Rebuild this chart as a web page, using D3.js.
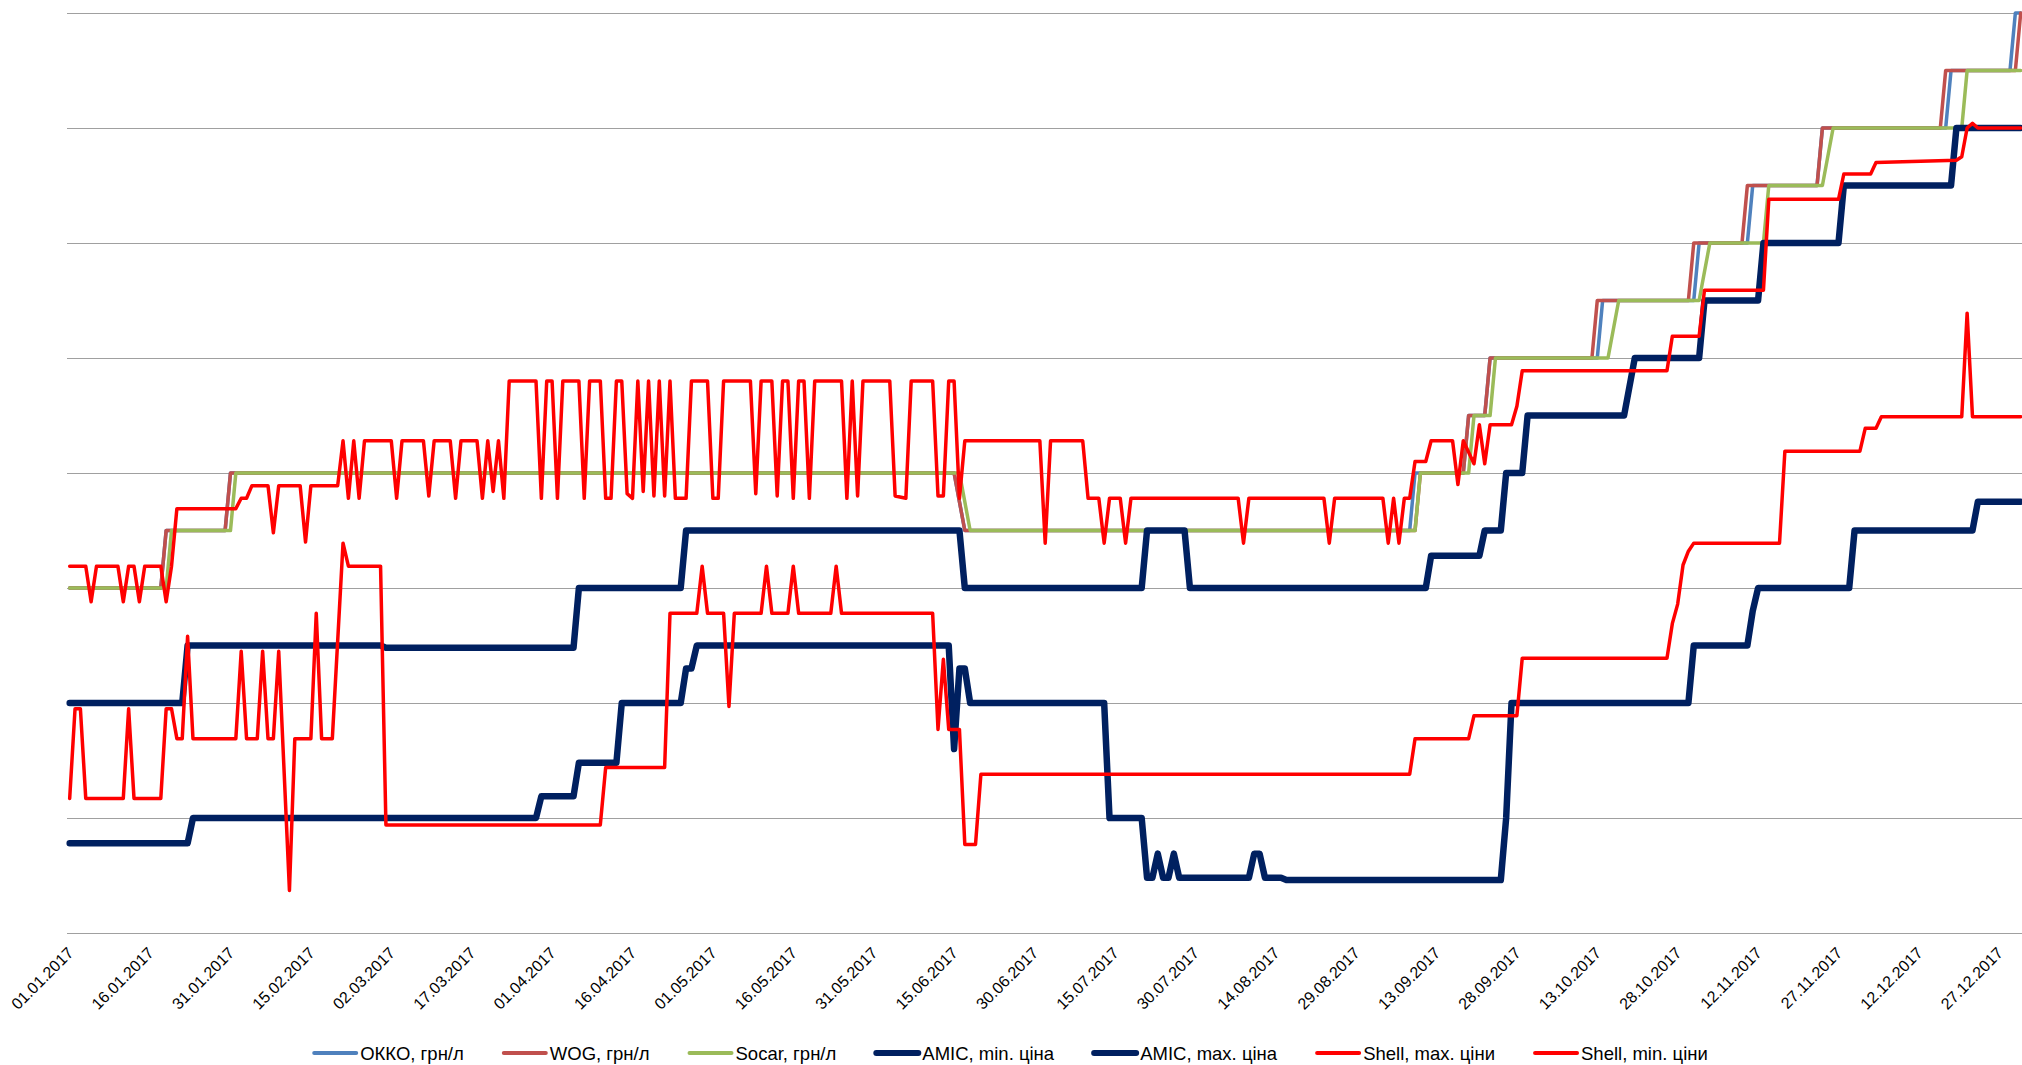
<!DOCTYPE html>
<html>
<head>
<meta charset="utf-8">
<script src="https://cdn.jsdelivr.net/npm/d3@7"></script>
<style>
  html, body { margin: 0; padding: 0; background: #fff; }
  svg { display: block; font-family: "Liberation Sans", Arial, sans-serif; }
</style>
</head>
<body>
<div id="chart"></div>
<script>
// x axis labels (every 15 days)
const dateLabels = ["01.01.2017", "16.01.2017", "31.01.2017", "15.02.2017", "02.03.2017", "17.03.2017",
  "01.04.2017", "16.04.2017", "01.05.2017", "16.05.2017", "31.05.2017", "15.06.2017", "30.06.2017",
  "15.07.2017", "30.07.2017", "14.08.2017", "29.08.2017", "13.09.2017", "28.09.2017", "13.10.2017",
  "28.10.2017", "12.11.2017", "27.11.2017", "12.12.2017", "27.12.2017"];

// horizontal gridlines, грн/л
const gridValues = [22, 23, 24, 25, 26, 27, 28, 29, 30];

// [day of 2017 (0 = 01.01), price]
const okko = [[0, 25], [17, 25], [18, 25.5], [29, 25.5], [30, 26], [165, 26], [167, 25.5], [250, 25.5], [251, 26],
  [260, 26], [261, 26.5], [264, 26.5], [265, 27], [285, 27], [286, 27.5], [303, 27.5], [304, 28], [313, 28],
  [314, 28.5], [326, 28.5], [327, 29], [350, 29], [351, 29.5], [362, 29.5], [363, 30], [364, 30]];

const wog = [[0, 25], [17, 25], [18, 25.5], [29, 25.5], [30, 26], [165, 26], [167, 25.5], [251, 25.5], [252, 26],
  [260, 26], [261, 26.5], [264, 26.5], [265, 27], [284, 27], [285, 27.5], [302, 27.5], [303, 28], [312, 28],
  [313, 28.5], [326, 28.5], [327, 29], [349, 29], [350, 29.5], [363, 29.5], [364, 30]];

const socar = [[0, 25], [18, 25], [19, 25.5], [30, 25.5], [31, 26], [166, 26], [168, 25.5], [251, 25.5], [252, 26],
  [261, 26], [262, 26.5], [265, 26.5], [266, 27], [287, 27], [289, 27.5], [304, 27.5], [306, 28], [316, 28],
  [317, 28.5], [327, 28.5], [329, 29], [353, 29], [354, 29.5], [364, 29.5]];

const amicMin = [[0, 22.78], [22, 22.78], [23, 23], [87, 23], [88, 23.19], [94, 23.19], [95, 23.48], [102, 23.48],
  [103, 24], [114, 24], [115, 24.3], [116, 24.3], [117, 24.5], [164, 24.5], [165, 23.6], [166, 24.3], [167, 24.3],
  [168, 24], [193, 24], [194, 23], [200, 23], [201, 22.48], [202, 22.48], [203, 22.69], [204, 22.48], [205, 22.48],
  [206, 22.69], [207, 22.48], [220, 22.48], [221, 22.69], [222, 22.69], [223, 22.48], [226, 22.48], [227, 22.46],
  [267, 22.46], [268, 23], [269, 24], [302, 24], [303, 24.5], [313, 24.5], [314, 24.8], [315, 25], [332, 25],
  [333, 25.5], [355, 25.5], [356, 25.75], [364, 25.75]];

const amicMax = [[0, 24], [21, 24], [22, 24.5], [58, 24.5], [59, 24.48], [94, 24.48], [95, 25], [114, 25],
  [115, 25.5], [166, 25.5], [167, 25], [200, 25], [201, 25.5], [208, 25.5], [209, 25], [253, 25], [254, 25.28],
  [263, 25.28], [264, 25.5], [267, 25.5], [268, 26], [271, 26], [272, 26.5], [290, 26.5], [292, 27], [304, 27],
  [305, 27.5], [315, 27.5], [316, 28], [330, 28], [331, 28.5], [351, 28.5], [352, 29], [364, 29]];

const shellMax = [[0, 25.19], [3, 25.19], [4, 24.88], [5, 25.19], [9, 25.19], [10, 24.88], [11, 25.19], [12, 25.19],
  [13, 24.88], [14, 25.19], [17, 25.19], [18, 24.88], [19, 25.19], [20, 25.69], [31, 25.69], [32, 25.78], [33, 25.78],
  [34, 25.89], [37, 25.89], [38, 25.48], [39, 25.89], [43, 25.89], [44, 25.4], [45, 25.89], [50, 25.89], [51, 26.28],
  [52, 25.78], [53, 26.28], [54, 25.78], [55, 26.28], [60, 26.28], [61, 25.78], [62, 26.28], [66, 26.28], [67, 25.8],
  [68, 26.28], [71, 26.28], [72, 25.78], [73, 26.28], [76, 26.28], [77, 25.78], [78, 26.28], [79, 25.84], [80, 26.28],
  [81, 25.78], [82, 26.8], [87, 26.8], [88, 25.78], [89, 26.8], [90, 26.8], [91, 25.78], [92, 26.8], [95, 26.8],
  [96, 25.78], [97, 26.8], [99, 26.8], [100, 25.78], [101, 25.78], [102, 26.8], [103, 26.8], [104, 25.82], [105, 25.78],
  [106, 26.8], [107, 25.84], [108, 26.8], [109, 25.8], [110, 26.8], [111, 25.8], [112, 26.8], [113, 25.78], [115, 25.78],
  [116, 26.8], [119, 26.8], [120, 25.78], [121, 25.78], [122, 26.8], [127, 26.8], [128, 25.82], [129, 26.8], [131, 26.8],
  [132, 25.8], [133, 26.8], [134, 26.8], [135, 25.78], [136, 26.8], [137, 26.8], [138, 25.78], [139, 26.8], [144, 26.8],
  [145, 25.78], [146, 26.8], [147, 25.8], [148, 26.8], [153, 26.8], [154, 25.8], [156, 25.78], [157, 26.8], [161, 26.8],
  [162, 25.8], [163, 25.8], [164, 26.8], [165, 26.8], [166, 25.78], [167, 26.28], [181, 26.28], [182, 25.39],
  [183, 26.28], [189, 26.28], [190, 25.78], [192, 25.78], [193, 25.39], [194, 25.78], [196, 25.78], [197, 25.39],
  [198, 25.78], [218, 25.78], [219, 25.39], [220, 25.78], [234, 25.78], [235, 25.39], [236, 25.78], [245, 25.78],
  [246, 25.39], [247, 25.78], [248, 25.39], [249, 25.78], [250, 25.78], [251, 26.1], [253, 26.1], [254, 26.28],
  [258, 26.28], [259, 25.9], [260, 26.28], [262, 26.08], [263, 26.42], [264, 26.08], [265, 26.42], [269, 26.42],
  [270, 26.58], [271, 26.89], [298, 26.89], [299, 27.19], [304, 27.19], [305, 27.59], [316, 27.59], [317, 28.38],
  [330, 28.38], [331, 28.6], [336, 28.6], [337, 28.7], [352, 28.72], [353, 28.75], [354, 29], [355, 29.04], [356, 29],
  [364, 29]];

const shellMin = [[0, 23.17], [1, 23.95], [2, 23.95], [3, 23.17], [10, 23.17], [11, 23.95], [12, 23.17], [17, 23.17],
  [18, 23.95], [19, 23.95], [20, 23.69], [21, 23.69], [22, 24.58], [23, 23.69], [31, 23.69], [32, 24.45], [33, 23.69],
  [35, 23.69], [36, 24.45], [37, 23.69], [38, 23.69], [39, 24.45], [41, 22.37], [42, 23.69], [45, 23.69], [46, 24.78],
  [47, 23.69], [49, 23.69], [51, 25.39], [52, 25.19], [58, 25.19], [59, 22.94], [99, 22.94], [100, 23.44], [111, 23.44],
  [112, 24.78], [117, 24.78], [118, 25.19], [119, 24.78], [122, 24.78], [123, 23.97], [124, 24.78], [129, 24.78],
  [130, 25.19], [131, 24.78], [134, 24.78], [135, 25.19], [136, 24.78], [142, 24.78], [143, 25.19], [144, 24.78],
  [161, 24.78], [162, 23.77], [163, 24.38], [164, 23.77], [166, 23.77], [167, 22.77], [169, 22.77], [170, 23.38],
  [250, 23.38], [251, 23.69], [261, 23.69], [262, 23.89], [270, 23.89], [271, 24.39], [298, 24.39], [299, 24.69],
  [300, 24.86], [301, 25.2], [302, 25.32], [303, 25.39], [319, 25.39], [320, 26.19], [334, 26.19], [335, 26.39],
  [337, 26.39], [338, 26.49], [353, 26.49], [354, 27.39], [355, 26.49], [364, 26.49]];

const series = [
  { name: "ОККО, грн/л", color: "#4F81BD", width: 3.5, data: okko },
  { name: "WOG, грн/л", color: "#C0504D", width: 3.5, data: wog },
  { name: "Socar, грн/л", color: "#9BBB59", width: 3.5, data: socar },
  { name: "АМІС, min. ціна", color: "#002060", width: 6.5, data: amicMin },
  { name: "АМІС, max. ціна", color: "#002060", width: 6.5, data: amicMax },
  { name: "Shell, max. ціни", color: "#FF0000", width: 3.5, data: shellMax },
  { name: "Shell, min. ціни", color: "#FF0000", width: 3.5, data: shellMin }
];

const width = 2022;
const height = 1065;
const plot = { left: 67, right: 2022, top: 13, bottom: 933 };
const dayPx = 5.36;

const start = Date.UTC(2017, 0, 1);
const parseDate = d3.utcParse("%d.%m.%Y");
const dayCenter = (d) => new Date(start + (d + 0.5) * 864e5);

const x = d3.scaleUtc()
  .domain([new Date(start), new Date(Date.UTC(2018, 0, 1))])
  .range([plot.left, plot.left + 365 * dayPx]);

const y = d3.scaleLinear()
  .domain([22, 30])
  .range([plot.bottom, plot.top]);

const svg = d3.select("#chart").append("svg")
  .attr("width", width)
  .attr("height", height)
  .attr("viewBox", `0 0 ${width} ${height}`);

svg.append("rect").attr("width", width).attr("height", height).attr("fill", "#fff");

// gridlines
svg.append("g")
  .selectAll("line")
  .data(gridValues)
  .join("line")
  .attr("x1", plot.left)
  .attr("x2", plot.right)
  .attr("y1", (d) => Math.round(y(d)) + 0.5)
  .attr("y2", (d) => Math.round(y(d)) + 0.5)
  .attr("stroke", "#a0a0a0")
  .attr("stroke-width", 1);

// x axis labels
const xAxis = svg.append("g")
  .attr("transform", `translate(0,${plot.bottom})`)
  .call(d3.axisBottom(x)
    .tickValues(dateLabels.map(parseDate))
    .tickFormat(d3.utcFormat("%d.%m.%Y"))
    .tickSize(0));

xAxis.select(".domain").remove();
xAxis.selectAll("text")
  .attr("x", 0)
  .attr("y", 0)
  .attr("dy", 0)
  .attr("text-anchor", "end")
  .attr("transform", "translate(7,21) rotate(-45)")
  .attr("font-size", 16)
  .attr("font-family", "\"Liberation Sans\", Arial, sans-serif")
  .attr("fill", "#000");

// series lines
const line = d3.line()
  .x((d) => x(dayCenter(d[0])))
  .y((d) => y(d[1]));

svg.append("g")
  .selectAll("path")
  .data(series)
  .join("path")
  .attr("d", (d) => line(d.data))
  .attr("fill", "none")
  .attr("stroke", (d) => d.color)
  .attr("stroke-width", (d) => d.width)
  .attr("stroke-linejoin", "round")
  .attr("stroke-linecap", "round");

// legend, centered below the axis
const legend = svg.append("g").attr("transform", "translate(0,1053)");
const items = legend.selectAll("g")
  .data(series)
  .join("g");

items.append("line")
  .attr("x1", 0)
  .attr("x2", 42)
  .attr("stroke", (d) => d.color)
  .attr("stroke-width", (d) => (d.width > 4 ? 6 : 4))
  .attr("stroke-linecap", "round");

items.append("text")
  .attr("x", 46)
  .attr("dy", "0.36em")
  .attr("font-size", 18.5)
  .attr("fill", "#000")
  .text((d) => d.name);

const gap = 40;
const widths = [];
items.each(function () {
  widths.push(46 + d3.select(this).select("text").node().getComputedTextLength());
});
const total = d3.sum(widths) + gap * (widths.length - 1);
let cursor = (width - total) / 2;
items.attr("transform", (d, i) => {
  const tx = cursor;
  cursor += widths[i] + gap;
  return `translate(${tx},0)`;
});
</script>
</body>
</html>
